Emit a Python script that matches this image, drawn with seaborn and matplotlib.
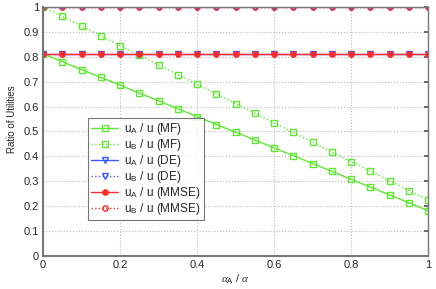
import numpy as np
import pandas as pd
import seaborn as sns
import matplotlib
matplotlib.use("Agg")
import matplotlib.pyplot as plt

# x axis: alpha_A / alpha
alpha_ratio = [0.0, 0.05, 0.1, 0.15, 0.2, 0.25, 0.3, 0.35, 0.4, 0.45, 0.5,
               0.55, 0.6, 0.65, 0.7, 0.75, 0.8, 0.85, 0.9, 0.95, 1.0]

uA_mf = [0.812, 0.780, 0.748, 0.717, 0.686, 0.654, 0.623, 0.591, 0.560, 0.528, 0.497,
         0.466, 0.434, 0.403, 0.371, 0.340, 0.308, 0.277, 0.245, 0.214, 0.182]
uB_mf = [1.000, 0.962, 0.923, 0.884, 0.845, 0.806, 0.767, 0.728, 0.690, 0.651, 0.612,
         0.573, 0.534, 0.496, 0.457, 0.417, 0.379, 0.341, 0.302, 0.263, 0.224]
uA_de = [0.812] * 21
uB_de = [1.0] * 21
uA_mmse = [0.812] * 21
uB_mmse = [1.0] * 21

green = "#5ee830"
blue = "#3a5cff"
red = "#ff2a2a"

sns.set_theme(style="white")
plt.rcParams["font.family"] = ["Liberation Sans", "DejaVu Sans"]
plt.rcParams["mathtext.fontset"] = "custom"
plt.rcParams["mathtext.rm"] = "Liberation Sans"
plt.rcParams["mathtext.it"] = "Liberation Serif:italic"

fig = plt.figure(figsize=(4.36, 2.89), dpi=100)
ax = fig.add_axes([0.099, 0.114, 0.883, 0.862])

series = [
    (uA_mf, r"u$_\mathrm{A}$ / u (MF)", green, "-", "s", 4.0, False),
    (uB_mf, r"u$_\mathrm{B}$ / u (MF)", green, ":", "s", 4.0, False),
    (uA_de, r"u$_\mathrm{A}$ / u (DE)", blue, "-", "v", 5.0, False),
    (uB_de, r"u$_\mathrm{B}$ / u (DE)", blue, ":", "v", 5.0, False),
    (uA_mmse, r"u$_\mathrm{A}$ / u (MMSE)", red, "-", "o", 3.8, True),
    (uB_mmse, r"u$_\mathrm{B}$ / u (MMSE)", red, ":", "o", 3.8, False),
]

for vals, lab, col, ls, mk, ms, filled in series:
    sns.lineplot(x=alpha_ratio, y=vals, ax=ax, label=lab, color=col,
                 linestyle=ls, linewidth=1.0, marker=mk, markersize=ms,
                 markerfacecolor=col if filled else "none",
                 markeredgecolor=col, markeredgewidth=1.0)

ax.set_xlim(0, 1)
ax.set_ylim(0, 1)
ax.set_xticks(np.arange(0, 1.01, 0.2))
ax.set_yticks(np.arange(0, 1.01, 0.1))
ax.set_xticklabels(["0", "0.2", "0.4", "0.6", "0.8", "1"])
ax.set_yticklabels(["0", "0.1", "0.2", "0.3", "0.4", "0.5", "0.6", "0.7", "0.8", "0.9", "1"])
ax.tick_params(direction="in", length=3, labelsize=8, top=True, right=True,
               color="#555555", pad=3)
ax.grid(True, linestyle=":", color="#bbbbbb", linewidth=0.8)

for sp in ax.spines.values():
    sp.set_color("#777777")
    sp.set_linewidth(1.0)
ax.spines["left"].set_linewidth(1.5)
ax.spines["bottom"].set_linewidth(1.5)

ax.set_xlabel(r"$\alpha_\mathrm{A}$ / $\alpha$", fontsize=8, labelpad=2)
ax.set_ylabel("Ratio of Utilities", fontsize=7)
ax.yaxis.set_label_coords(-0.068, 0.548)

leg = ax.legend(loc="lower left", bbox_to_anchor=(0.117, 0.145), fontsize=8.5,
                frameon=True, fancybox=False, handlelength=2.3,
                borderpad=0.25, labelspacing=0.0, handletextpad=0.5,
                borderaxespad=0)
leg.get_frame().set_edgecolor("#555555")
leg.get_frame().set_linewidth(0.8)

fig.savefig("out.png", dpi=100)
